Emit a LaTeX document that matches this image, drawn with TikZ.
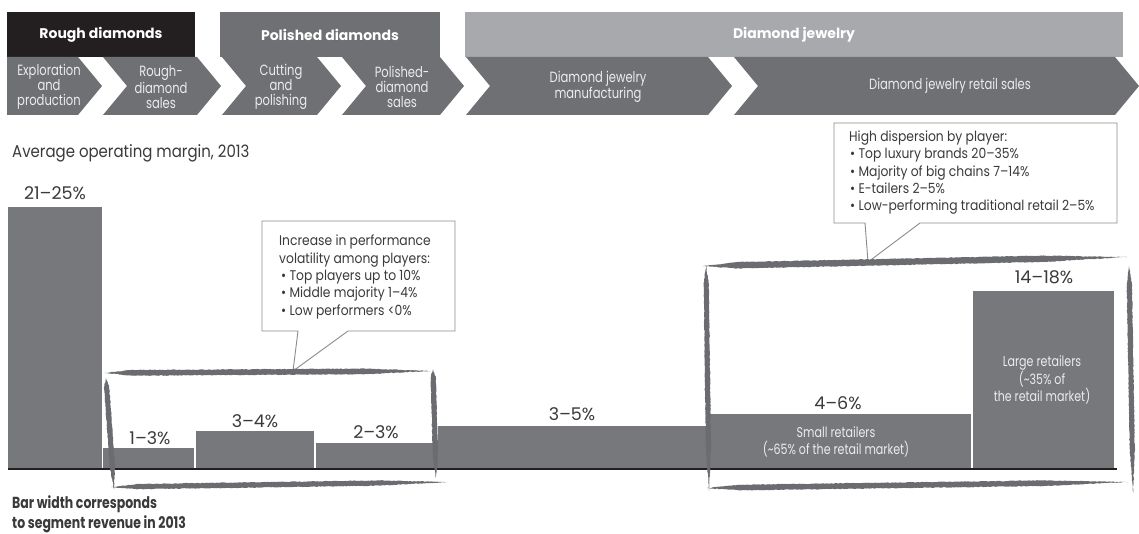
\documentclass[tikz,border=0pt]{standalone}
\usepackage{fontspec}
\setmainfont{Poppins}
\newfontfamily\pf{Poppins}[FakeStretch=0.88]
\newfontfamily\pc{Poppins}[FakeStretch=0.78]
\usetikzlibrary{calc,decorations.pathmorphing}
\definecolor{blk}{HTML}{231F20}
\definecolor{dg}{HTML}{6F7073}
\definecolor{lg}{HTML}{A7A9AC}
\definecolor{barc}{HTML}{77787B}
\definecolor{txt}{HTML}{3A3A3C}
\definecolor{brushc}{HTML}{6B6C6F}
\definecolor{callc}{HTML}{8A8B8D}
\definecolor{chevtext}{HTML}{ECECEC}
\tikzset{
 hdr/.style={text=white, inner sep=0, minimum height=45pt, font=\fontsize{14}{16}\selectfont\bfseries},
 chev/.style={fill=dg},
 chevtxt/.style={text=chevtext, align=center, inner sep=0, font=\pc\fontsize{14.8}{15}\selectfont},
 barf/.style={fill=barc},
 pct/.style={text=txt, inner sep=0, font=\fontsize{17.5}{19}\selectfont},
 inbar/.style={text=chevtext, align=center, inner sep=0, font=\pc\fontsize{14.2}{17}\selectfont},
 callout/.style={draw=callc, line width=0.9pt, fill=white, line join=miter},
 ctxt/.style={text=txt, anchor=base west, inner sep=0, font=\pf\fontsize{14}{15}\selectfont},
 brushdec/.style={decorate, decoration={random steps, segment length=1.6pt, amplitude=0.35pt}},
}
% tapered brush stroke: x1,y1,x2,y2,half-thickness
\newcommand\brushstroke[5]{%
 \coordinate (bA) at (#1,#2); \coordinate (bB) at (#3,#4);
 \fill[brushc, brushdec] (bA) -- ($(bA)!0.08!(bB)!#5!90:(bB)$) -- ($(bA)!0.8!(bB)!#5!90:(bB)$) -- (bB)
   -- ($(bA)!0.8!(bB)!#5!-90:(bB)$) -- ($(bA)!0.08!(bB)!#5!-90:(bB)$) -- cycle;}
\begin{document}
\begin{tikzpicture}[x=1pt, y=-1pt]
\pgfmathsetseed{7}
\useasboundingbox (0,0) rectangle (1139,534);
\fill[white] (0,0) rectangle (1139,534);

% header boxes
\node[hdr, fill=blk, minimum width=188pt] (h1) at (101,34.5) {Rough diamonds};
\node[hdr, fill=dg, minimum width=220pt] (h2) at (330,34.5) {Polished diamonds};
\node[hdr, fill=lg, minimum width=658pt] (h3) at (794,34.5) {Diamond jewelry};

% chevrons
\fill[chev] (7,57) -- (78,57) -- (102,86) -- (78,115) -- (7,115) -- cycle;
\fill[chev] (103,57) -- (197,57) -- (221,86) -- (197,115) -- (103,115) -- (127,86) -- cycle;
\fill[chev] (222,57) -- (317,57) -- (341,86) -- (317,115) -- (222,115) -- (246,86) -- cycle;
\fill[chev] (342,57) -- (440,57) -- (464,86) -- (440,115) -- (342,115) -- (366,86) -- cycle;
\fill[chev] (466,57) -- (708,57) -- (732,86) -- (708,115) -- (466,115) -- (490,86) -- cycle;
\fill[chev] (734,57) -- (1115,57) -- (1139,86) -- (1115,115) -- (734,115) -- (758,86) -- cycle;
\node[chevtxt] (c1) at (49,87) {Exploration\\and\\production};
\node[chevtxt] (c2) at (161,87) {Rough-\\diamond\\sales};
\node[chevtxt] (c3) at (281,87) {Cutting\\and\\polishing};
\node[chevtxt] (c4) at (402,87) {Polished-\\diamond\\sales};
\node[chevtxt] (c5) at (598,87) {Diamond jewelry\\manufacturing};
\node[chevtxt] (c6) at (950,86) {Diamond jewelry retail sales};

% title
\node[text=txt, anchor=base west, inner sep=0, font=\pf\fontsize{17}{19}\selectfont] (title) at (12,158) {Average operating margin, 2013};

% bars
\fill[barf] (8,207) rectangle (102,468);
\fill[barf] (103,448) rectangle (194,468);
\fill[barf] (195.5,431) rectangle (314,468);
\fill[barf] (315.5,443) rectangle (438,468);
\fill[barf] (438,426) rectangle (707,468);
\fill[barf] (707,414) rectangle (971,468);
\fill[barf] (972.5,291) rectangle (1114,468);
\draw[blk, line width=2pt] (8,468.5) -- (1117,468.5);

% callouts
\draw[callout] (262,221) -- (455,221) -- (455,331) -- (348,331) -- (293,371) -- (298,331) -- (262,331) -- cycle;
\draw[callout] (834,123) -- (1117,123) -- (1117,223) -- (920,223) -- (868,262) -- (865,223) -- (834,223) -- cycle;

% brush brackets
\brushstroke{105}{373}{430}{371}{2.8pt}
\brushstroke{106}{378}{114}{489}{2.6pt}
\brushstroke{433}{369}{436}{478}{2.6pt}
\brushstroke{111}{487}{447}{482}{2.6pt}
\brushstroke{703}{266}{1127}{257}{3.2pt}
\brushstroke{706}{266}{709}{491}{2.6pt}
\brushstroke{1129}{266}{1133}{493}{2.6pt}
\brushstroke{707}{488}{1128}{482}{2.8pt}

% callout texts
\node[ctxt] (t11) at (279,246) {Increase in performance};
\node[ctxt] (t12) at (279,264) {volatility among players:};
\node[ctxt] (t13) at (281,281) {• Top players up to 10\%};
\node[ctxt] (t14) at (281,298) {• Middle majority 1–4\%};
\node[ctxt] (t15) at (281,315) {• Low performers <0\%};
\node[ctxt] (t21) at (849,142) {High dispersion by player:};
\node[ctxt] (t22) at (850,159) {• Top luxury brands 20–35\%};
\node[ctxt] (t23) at (850,176.5) {• Majority of big chains 7–14\%};
\node[ctxt] (t24) at (850,193.5) {• E-tailers 2–5\%};
\node[ctxt] (t25) at (850,210.5) {• Low-performing traditional retail 2–5\%};

% value labels
\node[pct] (p1) at (55,193) {21–25\%};
\node[pct] (p2) at (150,438) {1–3\%};
\node[pct] (p3) at (255,421) {3–4\%};
\node[pct] (p4) at (376,432) {2–3\%};
\node[pct] (p5) at (572,414) {3–5\%};
\node[pct] (p6) at (838,403) {4–6\%};
\node[pct] (p7) at (1044,277) {14–18\%};
\node[inbar] (small) at (836,442) {Small retailers\\(\textasciitilde65\% of the retail market)};
\node[inbar] (large) at (1042,380) {Large retailers\\(\textasciitilde35\% of\\the retail market)};

% note
\node[text=txt, anchor=base west, inner sep=0, font=\pc\bfseries\fontsize{16}{20}\selectfont] (n1) at (12,508) {Bar width corresponds};
\node[text=txt, anchor=base west, inner sep=0, font=\pc\bfseries\fontsize{16}{20}\selectfont] (n2) at (12,528) {to segment revenue in 2013};
\end{tikzpicture}
\end{document}
